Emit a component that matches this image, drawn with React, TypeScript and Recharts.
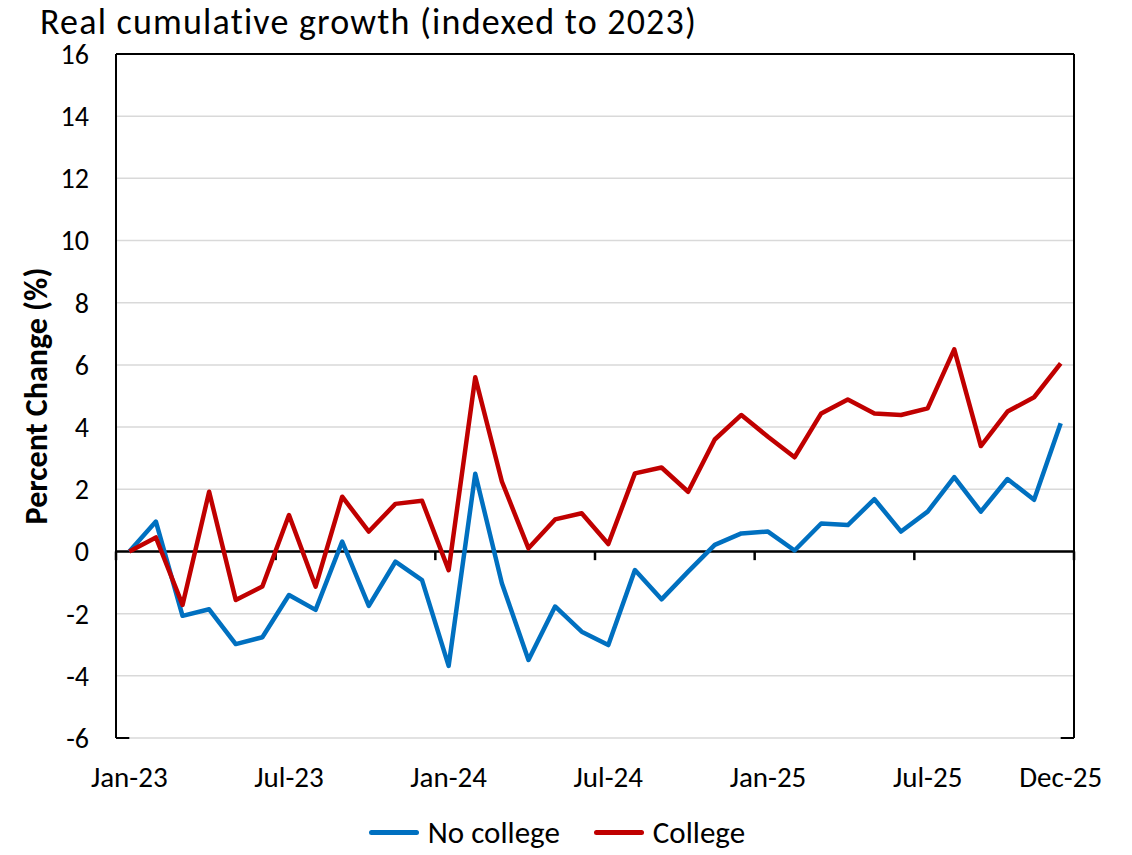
import { LineChart, Line, XAxis, YAxis, CartesianGrid, ReferenceLine, Legend } from "recharts";

const months = [
  "Jan-23", "Feb-23", "Mar-23", "Apr-23", "May-23", "Jun-23", "Jul-23", "Aug-23", "Sep-23", "Oct-23", "Nov-23", "Dec-23",
  "Jan-24", "Feb-24", "Mar-24", "Apr-24", "May-24", "Jun-24", "Jul-24", "Aug-24", "Sep-24", "Oct-24", "Nov-24", "Dec-24",
  "Jan-25", "Feb-25", "Mar-25", "Apr-25", "May-25", "Jun-25", "Jul-25", "Aug-25", "Sep-25", "Oct-25", "Nov-25", "Dec-25",
];

const noCollege = [
  0, 0.96, -2.07, -1.86, -2.98, -2.76, -1.4, -1.88, 0.32, -1.75, -0.33, -0.92,
  -3.68, 2.5, -1.02, -3.49, -1.77, -2.58, -3.01, -0.6, -1.54, -0.65, 0.21, 0.58,
  0.64, 0.03, 0.9, 0.85, 1.68, 0.64, 1.28, 2.39, 1.28, 2.33, 1.66, 4.12,
];

const college = [
  0, 0.45, -1.72, 1.92, -1.56, -1.13, 1.17, -1.13, 1.76, 0.64, 1.53, 1.63,
  -0.6, 5.6, 2.25, 0.1, 1.03, 1.23, 0.24, 2.51, 2.7, 1.92, 3.6, 4.39,
  3.69, 3.03, 4.44, 4.89, 4.44, 4.39, 4.6, 6.5, 3.39, 4.5, 4.96, 6.05,
];

const seriesNames = ["No college", "College"];
const yTicks = [-6, -4, -2, 0, 2, 4, 6, 8, 10, 12, 14, 16];
const xLabelIdx = [0, 6, 12, 18, 24, 30, 35];
// tick marks sit between months, every 6 months
const xBoundaries = [-0.5, 5.5, 11.5, 17.5, 23.5, 29.5, 35.5];

const data = months.map((m, i) => ({ idx: i, month: m, noCollege: noCollege[i], college: college[i] }));

const FONT = "Carlito, Calibri, Lato, sans-serif";
const BLUE = "#0070C0";
const RED = "#C00000";

const LegendContent = (props: any) => {
  const items = [...(props.payload || [])].sort(
    (a: any, b: any) => seriesNames.indexOf(a.value) - seriesNames.indexOf(b.value)
  );
  return (
    <div style={{ display: "flex", justifyContent: "center", alignItems: "center", gap: 34, fontFamily: FONT, fontSize: 31, color: "#000" }}>
      {items.map((it: any) => (
        <div key={it.value} style={{ display: "flex", alignItems: "center", gap: 9 }}>
          <div style={{ width: 50, height: 5, borderRadius: 3, background: it.color }} />
          <span>{it.value}</span>
        </div>
      ))}
    </div>
  );
};

export default function App() {
  return (
    <div style={{ position: "relative", width: 1132, height: 855, background: "#fff", fontFamily: FONT }}>
      <style>{"body{margin:0}"}</style>
      <div style={{ position: "absolute", left: 40, top: 0, fontSize: 36, letterSpacing: 1.2, color: "#000", whiteSpace: "nowrap" }}>
        Real cumulative growth (indexed to 2023)
      </div>
      <LineChart width={1132} height={855} data={data} margin={{ top: 54, right: 58, left: 0, bottom: 57 }}>
        <CartesianGrid vertical={false} stroke="#d9d9d9" strokeWidth={1.5} />
        <XAxis
          dataKey="idx"
          type="number"
          domain={[-0.5, 35.5]}
          ticks={xLabelIdx}
          tickFormatter={(i: number) => months[i]}
          axisLine={false}
          tickLine={false}
          tickSize={6}
          tickMargin={22}
          height={60}
          interval={0}
          tick={{ fontSize: 29, fill: "#000", fontFamily: FONT }}
        />
        <YAxis
          domain={[-6, 16]}
          ticks={yTicks}
          interval={0}
          width={116}
          axisLine={{ stroke: "#000", strokeWidth: 2 }}
          tickLine={false}
          tickSize={6}
          tickMargin={21}
          tick={{ fontSize: 28, fill: "#000", fontFamily: FONT }}
          label={{
            value: "Percent Change (%)",
            angle: -90,
            position: "insideLeft",
            offset: 36,
            style: { textAnchor: "middle", fontWeight: 700, fontSize: 32, fill: "#000", fontFamily: FONT },
          }}
        />
        <ReferenceLine y={16} stroke="#000" strokeWidth={2} />
        <ReferenceLine x={35.5} stroke="#000" strokeWidth={2} />
        <ReferenceLine segment={[{ x: -0.5, y: -6 }, { x: 0, y: -6 }]} stroke="#000" strokeWidth={2} />
        <ReferenceLine segment={[{ x: 35, y: -6 }, { x: 35.5, y: -6 }]} stroke="#000" strokeWidth={2} />
        <ReferenceLine y={0} stroke="#000" strokeWidth={2.5} />
        {xBoundaries.map((b) => (
          <ReferenceLine key={b} segment={[{ x: b, y: 0 }, { x: b, y: -0.28 }]} stroke="#000" strokeWidth={2.5} />
        ))}
        <Line
          type="linear"
          dataKey="noCollege"
          name={seriesNames[0]}
          stroke={BLUE}
          strokeWidth={4.5}
          strokeLinejoin="round"
          dot={false}
          isAnimationActive={false}
        />
        <Line
          type="linear"
          dataKey="college"
          name={seriesNames[1]}
          stroke={RED}
          strokeWidth={4.5}
          strokeLinejoin="round"
          dot={false}
          isAnimationActive={false}
        />
        <Legend
          layout="horizontal"
          verticalAlign="middle"
          align="center"
          content={<LegendContent />}
          wrapperStyle={{ top: 813, left: 0, width: 1114 }}
        />
      </LineChart>
    </div>
  );
}
